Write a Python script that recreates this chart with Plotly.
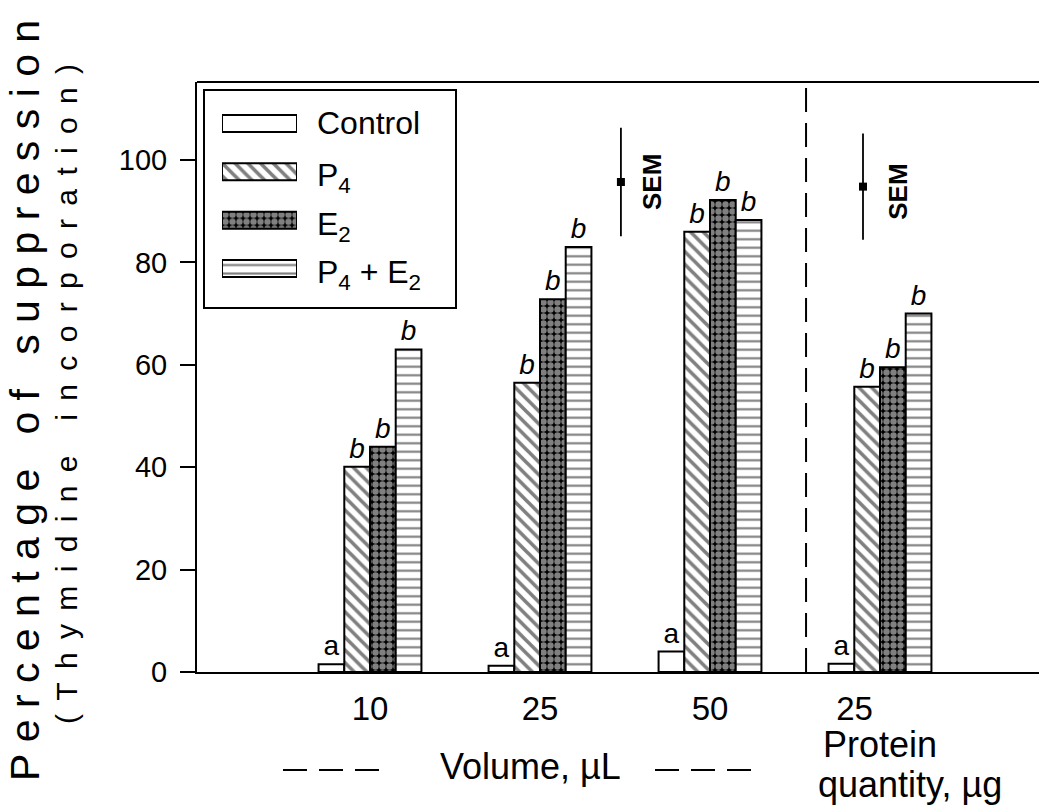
import plotly.graph_objects as go

# ---------------- data ----------------
group_pos = [1, 2, 3, 4]
xtick_pos = [1, 2, 3, 3.85]
xtick_labels = ["10", "25", "50", "25"]

series_names = ["Control", "P4", "E2", "P4 + E2"]
legend_labels = ["Control", "P<sub>4</sub>", "E<sub>2</sub>", "P<sub>4</sub> + E<sub>2</sub>"]
control = [1.5, 1.2, 4.0, 1.6]
p4 = [40.1, 56.5, 86.0, 55.7]
e2 = [44.0, 72.8, 92.2, 59.5]
p4e2 = [63.0, 83.0, 88.3, 70.0]
control_sig = ["a", "a", "a", "a"]
treat_sig = ["<i>b</i>", "<i>b</i>", "<i>b</i>", "<i>b</i>"]

sem_x = [2.476, 3.9]
sem_y = [95.7, 94.8]
sem_err = [10.6, 10.4]

yticks = [0, 20, 40, 60, 80, 100]

# ---------------- layout geometry ----------------
W, H = 1039, 809
L, R, T, B = 197, 0, 82, 137
PW, PH = W - L - R, H - T - B


def px(x):
    return (x - L) / PW


def py(y):
    return (H - B - y) / PH


FONT = "Liberation Sans, Arial, Helvetica, sans-serif"

patterns = [
    dict(shape="", bgcolor="white"),
    dict(shape="\\", fgcolor="black", bgcolor="white", size=9, solidity=0.4),
    dict(shape=".", fgcolor="white", bgcolor="black", size=7, solidity=0.65),
    dict(shape="-", fgcolor="black", bgcolor="white", size=8.5, solidity=0.25),
]

values = [control, p4, e2, p4e2]
texts = [control_sig, treat_sig, treat_sig, treat_sig]

fig = go.Figure()
for name, vals, pat, txt in zip(series_names, values, patterns, texts):
    fig.add_trace(go.Bar(
        x=group_pos, y=vals, name=name,
        marker=dict(color="white", line=dict(color="black", width=2), pattern=pat),
        text=txt, textposition="outside", cliponaxis=False, constraintext="none",
        textfont=dict(family=FONT, size=28, color="black"),
        showlegend=False,
    ))

# SEM markers
fig.add_trace(go.Scatter(
    x=sem_x, y=sem_y, mode="markers",
    marker=dict(symbol="square", size=8, color="black"),
    error_y=dict(type="data", array=sem_err, color="black", thickness=1.8, width=0),
    showlegend=False,
))

# custom legend swatches (inset axis)
for i, pat in enumerate(patterns):
    fig.add_trace(go.Bar(
        x=[1], y=[i], orientation="h", width=0.35,
        marker=dict(color="white", line=dict(color="black", width=2), pattern=pat),
        xaxis="x2", yaxis="y2", showlegend=False, hoverinfo="skip",
    ))

fig.update_layout(
    width=W, height=H,
    margin=dict(l=L, r=R, t=T, b=B, pad=0),
    paper_bgcolor="white", plot_bgcolor="white",
    barmode="group", bargap=0.395, bargroupgap=0,
    font=dict(family=FONT, color="black"),
    xaxis=dict(
        range=[1 - 173 / 170, 1 + (1039 - 370) / 170],
        tickvals=xtick_pos, ticktext=xtick_labels, ticks="",
        tickfont=dict(family=FONT, size=33),
        showline=True, linecolor="black", linewidth=2,
        showgrid=False, zeroline=False, ticklabelstandoff=6,
    ),
    yaxis=dict(
        range=[0, (672 - 82) / 5.12],
        tickvals=yticks, ticks="outside", ticklen=15, tickwidth=2, tickcolor="black",
        tickfont=dict(family=FONT, size=29),
        showline=True, linecolor="black", linewidth=2,
        showgrid=False, zeroline=False, ticklabelstandoff=7,
    ),
    xaxis2=dict(domain=[px(222), px(297)], range=[0, 1], visible=False, fixedrange=True),
    yaxis2=dict(domain=[py(292.7), py(99.3)], range=[3.5, -0.5], visible=False, fixedrange=True),
)

shapes = []
# top frame line
shapes.append(dict(type="line", xref="paper", yref="paper", x0=0, x1=1, y0=1, y1=1,
                   line=dict(color="black", width=2)))
# dashed separator
shapes.append(dict(type="line", xref="x", yref="paper", x0=3.565, x1=3.565, y0=0, y1=1,
                   line=dict(color="black", width=2, dash="24px,11px")))
# legend frame
shapes.append(dict(type="rect", xref="paper", yref="paper", x0=px(204), x1=px(456),
                   y0=py(308), y1=py(90), line=dict(color="black", width=2)))
# dashes around "Volume" label
for x0, x1 in [(283, 380), (655, 752)]:
    shapes.append(dict(type="line", xref="paper", yref="paper", x0=px(x0), x1=px(x1),
                       y0=py(770), y1=py(770), line=dict(color="black", width=2, dash="24px,12px")))
fig.update_layout(shapes=shapes)

ann = []
# legend labels
for i, lab in enumerate(legend_labels):
    yc = 123.5 + i * 48.3 + (0 if i == 0 else 6)
    ann.append(dict(text=lab, xref="paper", yref="paper", x=px(315), y=py(yc),
                    xanchor="left", yanchor="middle", showarrow=False,
                    font=dict(family=FONT, size=32, color="black")))
# SEM labels
for xs, ys in [(2.659, 95.7), (4.106, 93.8)]:
    ann.append(dict(text="<b>SEM</b>", x=xs, y=ys, xref="x", yref="y", textangle=-90,
                    showarrow=False, xanchor="center", yanchor="middle",
                    font=dict(family=FONT, size=26, color="black")))

NB = "\u00a0"
SIXTH = "\u2006"


def spaced(s, sep):
    return sep.join(list(s))


# y titles
ann.append(dict(text=spaced("Percentage of suppression", NB), xref="paper", yref="paper",
                x=px(25), y=py(401), textangle=-90, showarrow=False,
                xanchor="center", yanchor="middle",
                font=dict(family=FONT, size=41, color="black")))
ann.append(dict(text=spaced("(Thymidine incorporation)", NB + SIXTH), xref="paper", yref="paper",
                x=px(66), y=py(394), textangle=-90, showarrow=False,
                xanchor="center", yanchor="middle",
                font=dict(family=FONT, size=30, color="black")))
# bottom labels
ann.append(dict(text="Volume, µL", xref="paper", yref="paper", x=px(530), y=py(766),
                xanchor="center", yanchor="middle", showarrow=False,
                font=dict(family=FONT, size=36, color="black")))
ann.append(dict(text="Protein", xref="paper", yref="paper", x=px(880), y=py(744),
                xanchor="center", yanchor="middle", showarrow=False,
                font=dict(family=FONT, size=36, color="black")))
ann.append(dict(text="quantity, µg", xref="paper", yref="paper", x=px(910), y=py(784),
                xanchor="center", yanchor="middle", showarrow=False,
                font=dict(family=FONT, size=36, color="black")))
fig.update_layout(annotations=ann)

fig.write_html("out.html")
